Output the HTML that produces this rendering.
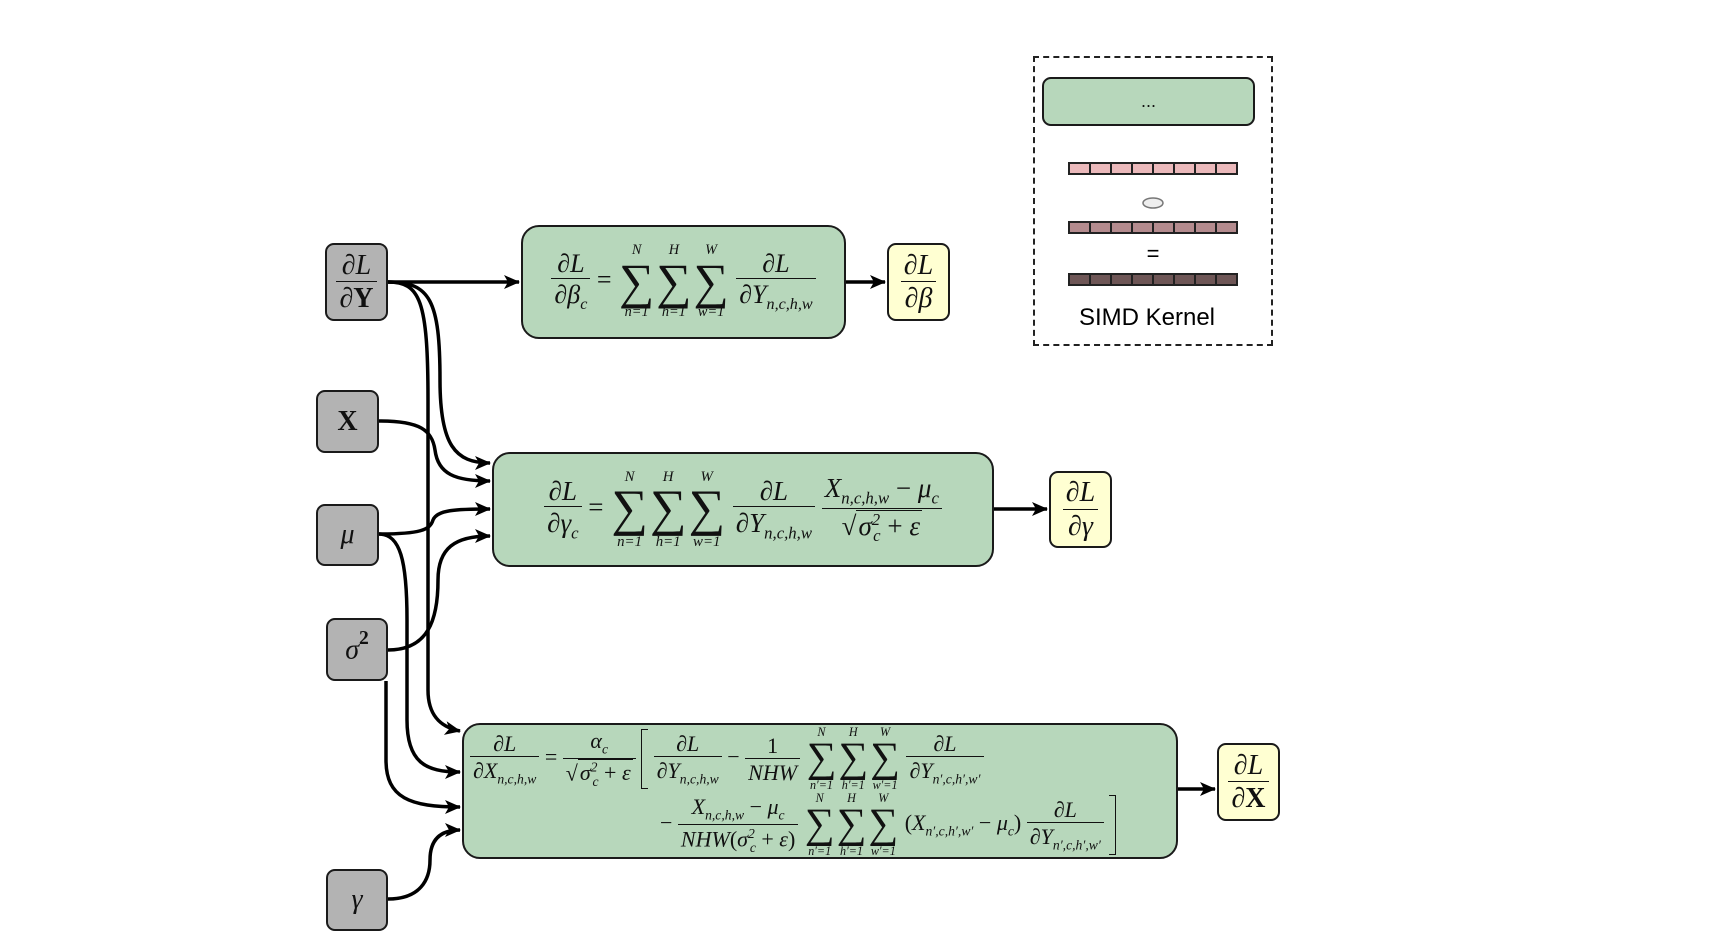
<!DOCTYPE html>
<html><head><meta charset="utf-8"><style>
*{margin:0;padding:0;box-sizing:border-box}
body{width:1720px;height:936px;background:#fff;position:relative;overflow:hidden;font-family:"Liberation Serif",serif;color:#111}
.b{position:absolute;border:2px solid #1a1a1a;border-radius:10px;display:flex;align-items:center;justify-content:center}
.g{background:#b7d7bb;border-radius:18px}
.gr{background:#b3b3b3;border-radius:9px}
.y{background:#ffffd2;border-radius:9px}
i{font-style:italic}
.fr{display:inline-flex;flex-direction:column;align-items:center;vertical-align:middle;line-height:1.05}
.fr>.n{border-bottom:1.6px solid #111;padding:0 3px 1px;text-align:center;width:100%}
.fr>.d{padding:2px 3px 0}
.sm{display:inline-flex;flex-direction:column;align-items:center;vertical-align:middle;line-height:1;margin:0 1px}
.sm .s{font-size:1.9em;line-height:.95;display:block}
.sm small{font-size:.55em;font-style:italic;display:block;line-height:1.1}
sub,sup{font-size:.62em;font-style:italic}
.eq{white-space:nowrap;font-size:26px}
.sq{border-top:1.5px solid #111;padding:0 2px}
.abs{position:absolute;white-space:nowrap}
.br{display:inline-block;vertical-align:middle;width:7px;height:60px;border:1.6px solid #111}
</style></head><body>

<div class="b gr" style="left:325px;top:243px;width:63px;height:78px;font-size:28px"><span class="fr"><span class="n">∂<i>L</i></span><span class="d">∂<b>Y</b></span></span></div>
<div class="b gr" style="left:316px;top:390px;width:63px;height:63px;font-size:28px"><b>X</b></div>
<div class="b gr" style="left:316px;top:504px;width:63px;height:62px;font-size:28px"><i>μ</i></div>
<div class="b gr" style="left:326px;top:618px;width:62px;height:63px;font-size:28px"><span><i>σ</i><sup style="font-style:normal;font-weight:bold;font-size:.7em;position:relative;top:-4px">2</sup></span></div>
<div class="b gr" style="left:326px;top:869px;width:62px;height:62px;font-size:28px"><i>γ</i></div>

<div class="b g" style="left:521px;top:225px;width:325px;height:114px">
<span class="eq" style="font-size:26px"><span class="fr"><span class="n">∂<i>L</i></span><span class="d">∂<i>β</i><sub>c</sub></span></span> =
<span class="sm"><small>N</small><span class="s">∑</span><small>n=1</small></span><span class="sm"><small>H</small><span class="s">∑</span><small>h=1</small></span><span class="sm"><small>W</small><span class="s">∑</span><small>w=1</small></span>
<span class="fr"><span class="n">∂<i>L</i></span><span class="d">∂<i>Y</i><sub>n,c,h,w</sub></span></span></span>
</div>

<div class="b g" style="left:492px;top:452px;width:502px;height:115px">
<span class="eq" style="font-size:27px"><span class="fr"><span class="n">∂<i>L</i></span><span class="d">∂<i>γ</i><sub>c</sub></span></span> =
<span class="sm"><small>N</small><span class="s">∑</span><small>n=1</small></span><span class="sm"><small>H</small><span class="s">∑</span><small>h=1</small></span><span class="sm"><small>W</small><span class="s">∑</span><small>w=1</small></span>
<span class="fr"><span class="n">∂<i>L</i></span><span class="d">∂<i>Y</i><sub>n,c,h,w</sub></span></span>
<span class="fr"><span class="n"><i>X</i><sub>n,c,h,w</sub> − <i>μ</i><sub>c</sub></span><span class="d">√<span class="sq"><i>σ</i><sup>2</sup><sub style="margin-left:-7px">c</sub> + <i>ε</i></span></span></span></span>
</div>

<div class="b g" style="left:462px;top:723px;width:716px;height:136px"></div>
<div class="abs eq" style="left:470px;top:726px;font-size:22px">
<span class="fr"><span class="n">∂<i>L</i></span><span class="d">∂<i>X</i><sub>n,c,h,w</sub></span></span> =
<span class="fr"><span class="n"><i>α</i><sub>c</sub></span><span class="d">√<span class="sq"><i>σ</i><sup>2</sup><sub style="margin-left:-5px">c</sub> + <i>ε</i></span></span></span>
<span class="br" style="border-right:none"></span>
<span class="fr"><span class="n">∂<i>L</i></span><span class="d">∂<i>Y</i><sub>n,c,h,w</sub></span></span> −
<span class="fr"><span class="n">1</span><span class="d"><i>NHW</i></span></span>
<span class="sm"><small>N</small><span class="s">∑</span><small>n′=1</small></span><span class="sm"><small>H</small><span class="s">∑</span><small>h′=1</small></span><span class="sm"><small>W</small><span class="s">∑</span><small>w′=1</small></span>
<span class="fr"><span class="n">∂<i>L</i></span><span class="d">∂<i>Y</i><sub>n′,c,h′,w′</sub></span></span>
</div>
<div class="abs eq" style="left:660px;top:792px;font-size:22px">
− <span class="fr"><span class="n"><i>X</i><sub>n,c,h,w</sub> − <i>μ</i><sub>c</sub></span><span class="d"><i>NHW</i>(<i>σ</i><sup>2</sup><sub style="margin-left:-5px">c</sub> + <i>ε</i>)</span></span>
<span class="sm"><small>N</small><span class="s">∑</span><small>n′=1</small></span><span class="sm"><small>H</small><span class="s">∑</span><small>h′=1</small></span><span class="sm"><small>W</small><span class="s">∑</span><small>w′=1</small></span>
(<i>X</i><sub>n′,c,h′,w′</sub> − <i>μ</i><sub>c</sub>)
<span class="fr"><span class="n">∂<i>L</i></span><span class="d">∂<i>Y</i><sub>n′,c,h′,w′</sub></span></span>
<span class="br" style="border-left:none"></span>
</div>

<div class="b y" style="left:887px;top:243px;width:63px;height:78px;font-size:28px"><span class="fr"><span class="n">∂<i>L</i></span><span class="d">∂<i>β</i></span></span></div>
<div class="b y" style="left:1049px;top:471px;width:63px;height:77px;font-size:28px"><span class="fr"><span class="n">∂<i>L</i></span><span class="d">∂<i>γ</i></span></span></div>
<div class="b y" style="left:1217px;top:743px;width:63px;height:78px;font-size:28px"><span class="fr"><span class="n">∂<i>L</i></span><span class="d">∂<b>X</b></span></span></div>

<div style="position:absolute;left:1033px;top:56px;width:240px;height:290px;border:2px dashed #222"></div>
<div class="b g" style="left:1042px;top:77px;width:213px;height:49px;border-radius:9px;font-family:'Liberation Sans',sans-serif;font-size:18px">...</div>

<svg width="1720" height="936" style="position:absolute;left:0;top:0">
<defs>
<marker id="a" markerUnits="userSpaceOnUse" markerWidth="18" markerHeight="16" refX="15" refY="7" orient="auto"><path d="M0,0 L16,7 L0,14 L4,7 z" fill="#000"/></marker>
</defs>
<rect x="1069" y="163" width="168" height="11" fill="#ebb9bb" stroke="#222" stroke-width="2"/>
<rect x="1069" y="222" width="168" height="11" fill="#b48b8e" stroke="#222" stroke-width="2"/>
<rect x="1069" y="274" width="168" height="11" fill="#6e5656" stroke="#222" stroke-width="2"/>
<g stroke="#222" stroke-width="2">
<path d="M1090,163v11M1111,163v11M1132,163v11M1153,163v11M1174,163v11M1195,163v11M1216,163v11"/>
<path d="M1090,222v11M1111,222v11M1132,222v11M1153,222v11M1174,222v11M1195,222v11M1216,222v11"/>
<path d="M1090,274v11M1111,274v11M1132,274v11M1153,274v11M1174,274v11M1195,274v11M1216,274v11"/>
</g>
<ellipse cx="1153" cy="203" rx="10" ry="5" fill="#eee" stroke="#777" stroke-width="1.5"/>
<text x="1153" y="261" font-family="Liberation Sans" font-size="22" text-anchor="middle">=</text>
<text x="1147" y="325" font-family="Liberation Sans" font-size="24" text-anchor="middle">SIMD Kernel</text>

<g fill="none" stroke="#000" stroke-width="3.5" marker-end="url(#a)">
<path d="M388,282 L519,282"/>
<path d="M388,282 C430,282 440,300 440,380 C440,445 455,463 490,463"/>
<path d="M388,282 C420,282 428,300 428,400 L428,690 C428,715 440,727 460,731"/>
<path d="M379,421 C420,421 432,430 435,450 C438,474 455,481 490,481"/>
<path d="M379,534 C420,534 430,530 433,520 C437,510 455,509 490,509"/>
<path d="M379,534 C400,534 407,560 407,620 L407,720 C407,762 425,772 460,772"/>
<path d="M388,650 C428,650 438,620 438,580 C438,548 455,536 490,536"/>
<path d="M386,681 L386,760 C386,798 410,807 460,807"/>
<path d="M388,899 C420,899 430,880 430,860 C430,840 440,830 460,830"/>
<path d="M846,282 L885,282"/>
<path d="M994,509 L1047,509"/>
<path d="M1178,789 L1215,789"/>
</g>
</svg>
</body></html>
